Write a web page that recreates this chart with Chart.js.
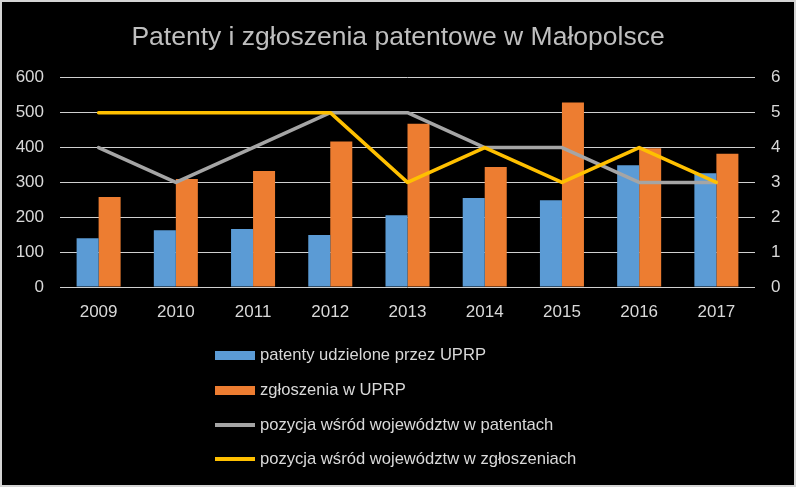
<!DOCTYPE html>
<html>
<head>
<meta charset="utf-8">
<script src="https://cdn.jsdelivr.net/npm/chart.js@4"></script>
<style>
  html, body { margin: 0; padding: 0; background: #000; }
  #wrap { position: relative; width: 796px; height: 487px; background: #000; overflow: hidden; }
  #c { position: absolute; left: 0; top: 0; }
  #frame { position: absolute; left: 0; top: 0; width: 796px; height: 487px; box-sizing: border-box; border: 2px solid #d4d4d4; pointer-events: none; }
  #legend { position: absolute; left: 215px; top: 338px; margin: 0; padding: 0; list-style: none;
            font-family: "Liberation Sans", Arial, sans-serif; font-size: 16.6px; color: #d9d9d9; }
  #legend li { height: 34.7px; display: flex; align-items: center; white-space: nowrap; }
  #legend .mk { display: inline-block; width: 40px; margin-right: 5px; }
</style>
</head>
<body>
<div id="wrap">
  <canvas id="c" width="796" height="487"></canvas>
  <ul id="legend"></ul>
  <div id="frame"></div>
</div>
<script>
const title = "Patenty i zgłoszenia patentowe w Małopolsce";
const years = ["2009","2010","2011","2012","2013","2014","2015","2016","2017"];
const patentLabel = "patenty udzielone przez UPRP";
const patents = [140, 163, 166, 149, 206, 255, 249, 349, 326];
const applicationLabel = "zgłoszenia w UPRP";
const applications = [258, 310, 333, 417, 468, 344, 529, 398, 382];
const rankPatentsLabel = "pozycja wśród województw w patentach";
const rankPatents = [4, 3, 4, 5, 5, 4, 4, 3, 3];
const rankApplicationsLabel = "pozycja wśród województw w zgłoszeniach";
const rankApplications = [5, 5, 5, 5, 3, 4, 3, 4, 3];

const BLUE = "#5B9BD5", ORANGE = "#ED7D31", GRAY = "#A5A5A5", GOLD = "#FFC000";
const TXT = "#d9d9d9", GRID = "#d0d0d0";
const FONT = '"Liberation Sans", Arial, sans-serif';

const datasets = [
  { type: "bar", label: patentLabel, data: patents, backgroundColor: BLUE, yAxisID: "y", order: 2,
    barPercentage: 1.0, categoryPercentage: 0.57 },
  { type: "bar", label: applicationLabel, data: applications, backgroundColor: ORANGE, yAxisID: "y", order: 2,
    barPercentage: 1.0, categoryPercentage: 0.57 },
  { type: "line", label: rankPatentsLabel, data: rankPatents, borderColor: GRAY, backgroundColor: GRAY,
    borderWidth: 3.5, pointRadius: 0, tension: 0, yAxisID: "y1", order: 1, borderCapStyle: "round", borderJoinStyle: "round" },
  { type: "line", label: rankApplicationsLabel, data: rankApplications, borderColor: GOLD, backgroundColor: GOLD,
    borderWidth: 3.5, pointRadius: 0, tension: 0, yAxisID: "y1", order: 0, borderCapStyle: "round", borderJoinStyle: "round" }
];

new Chart(document.getElementById("c"), {
  data: { labels: years, datasets },
  options: {
    responsive: false,
    animation: false,
    devicePixelRatio: 1,
    layout: { padding: { left: 0, right: 0, top: 0, bottom: 158 } },
    plugins: {
      legend: { display: false },
      tooltip: { enabled: false },
      title: { display: true, text: title, color: "#bfbfbf",
               font: { family: FONT, size: 26.5, weight: "normal" }, padding: { top: 22, bottom: 24 } }
    },
    scales: {
      x: {
        grid: { display: false, drawTicks: false },
        border: { display: false },
        ticks: { color: TXT, font: { family: FONT, size: 17 }, padding: 15 },
        afterFit: s => { s.height = 42; }
      },
      y: {
        position: "left", min: 0, max: 600,
        ticks: { stepSize: 100, color: TXT, font: { family: FONT, size: 17 }, padding: 16 },
        grid: { color: GRID, lineWidth: 1, drawTicks: false },
        border: { display: false },
        afterFit: s => { s.width = 60; }
      },
      y1: {
        position: "right", min: 0, max: 6,
        ticks: { stepSize: 1, color: TXT, font: { family: FONT, size: 17 }, padding: 16 },
        grid: { display: false, drawTicks: false },
        border: { display: false },
        afterFit: s => { s.width = 41; }
      }
    }
  }
});

const leg = document.getElementById("legend");
datasets.forEach(d => {
  const li = document.createElement("li");
  const mk = document.createElement("span");
  mk.className = "mk";
  mk.style.background = d.type === "bar" ? d.backgroundColor : d.borderColor;
  mk.style.height = d.type === "bar" ? "9px" : "4px";
  li.appendChild(mk);
  li.appendChild(document.createTextNode(d.label));
  leg.appendChild(li);
});
</script>
</body>
</html>
